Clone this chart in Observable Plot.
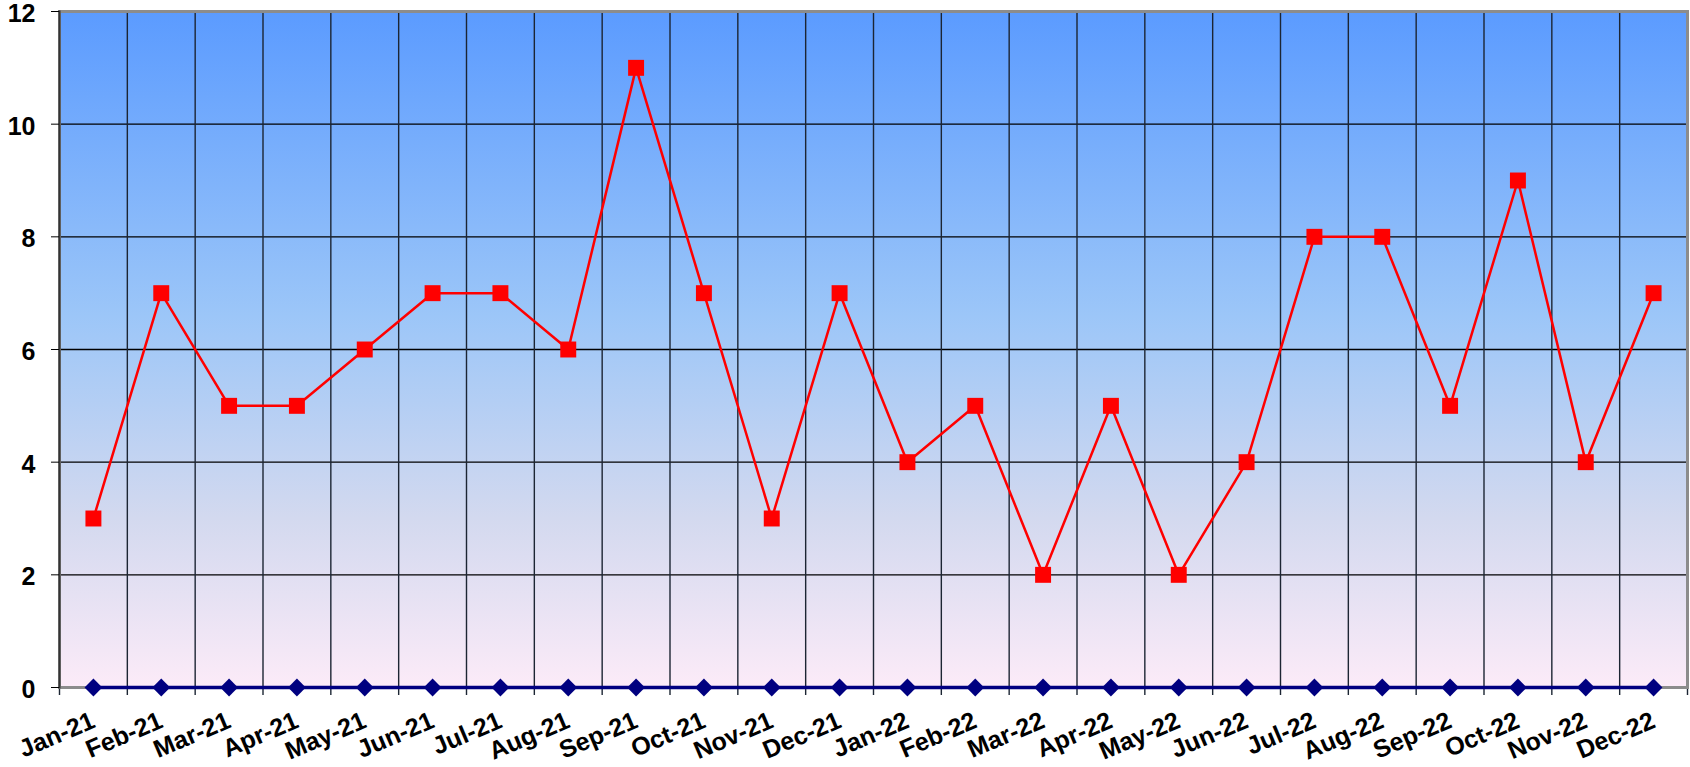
<!DOCTYPE html>
<html><head><meta charset="utf-8">
<script src="https://cdn.jsdelivr.net/npm/d3@7"></script>
<script src="https://cdn.jsdelivr.net/npm/@observablehq/plot@0.6"></script>
<style>body{margin:0;background:#fff;overflow:hidden;} svg{display:block}</style>
</head><body><div id="chart"></div>
<script>
const months = ["Jan-21","Feb-21","Mar-21","Apr-21","May-21","Jun-21","Jul-21","Aug-21","Sep-21","Oct-21","Nov-21","Dec-21",
  "Jan-22","Feb-22","Mar-22","Apr-22","May-22","Jun-22","Jul-22","Aug-22","Sep-22","Oct-22","Nov-22","Dec-22"];
const seriesRed = [3,7,5,5,6,7,7,6,11,7,3,7,4,5,2,5,2,4,8,8,5,9,4,7];
const seriesBlue = [0,0,0,0,0,0,0,0,0,0,0,0,0,0,0,0,0,0,0,0,0,0,0,0];
const yTicks = [0,2,4,6,8,10,12];

const W = 1690, H = 767, mL = 59, mR = 3, mT = 11, mB = 80;
const bw = (W - mL - mR) / months.length;
const red = months.map((m, i) => ({m, v: seriesRed[i]}));
const blue = months.map((m, i) => ({m, v: seriesBlue[i]}));

const svg = Plot.plot({
  width: W, height: H,
  marginLeft: mL, marginRight: mR, marginTop: mT, marginBottom: mB,
  style: {fontFamily: "'Liberation Sans', Arial, sans-serif", fontWeight: "bold", fontSize: "25px", background: "white", overflow: "visible", color: "#000"},
  x: {type: "band", domain: months, padding: 0, round: false, label: null},
  y: {domain: [0, 12], label: null},
  marks: [
    Plot.frame({fill: "url(#bgGrad)", stroke: null}),
    Plot.ruleY(yTicks.filter(t => t > 0 && t < 12), {y: d => d, stroke: "#000", strokeWidth: 1.3}),
    Plot.ruleX(months, {x: d => d, dx: -bw / 2, stroke: "#1c2533", strokeWidth: 1.4, insetBottom: -8}),
    Plot.ruleX(months.slice(-1), {x: d => d, dx: bw / 2, stroke: "#1c2533", strokeWidth: 1.4, insetBottom: -8}),
    Plot.frame({stroke: "#8c8c8c", strokeWidth: 3}),
    Plot.frame({anchor: "left", stroke: "#333", strokeWidth: 2}),
    Plot.axisY({ticks: yTicks, tickSize: 8, tickPadding: 16, fontSize: 25, tickFormat: d => d, label: null}),
    Plot.axisX({tickSize: 0, tickRotate: -23, tickPadding: 32, fontSize: 25, label: null}),
    Plot.line(blue, {x: "m", y: "v", stroke: "#000080", strokeWidth: 3.5}),
    Plot.dot(blue, {x: "m", y: "v", symbol: "diamond2", r: 8, fill: "#000080", stroke: null}),
    Plot.line(red, {x: "m", y: "v", stroke: "#ff0000", strokeWidth: 2.5}),
    Plot.dot(red, {x: "m", y: "v", symbol: "square", r: 9, fill: "#ff0000", stroke: null})
  ]
});

const defs = d3.select(svg).insert("defs", ":first-child");
const g = defs.append("linearGradient").attr("id", "bgGrad")
  .attr("x1", 0).attr("y1", 0).attr("x2", 0).attr("y2", 1);
[[0, "#5b9bff"], [0.45, "#9cc6f8"], [0.75, "#d3d9ef"], [1, "#fcebf8"]].forEach(([o, c]) =>
  g.append("stop").attr("offset", o).attr("stop-color", c));

d3.select(svg).selectAll("text")
  .style("font-size", "25px")
  .style("font-weight", "bold")
  .style("font-family", "'Liberation Sans', Arial, sans-serif");
d3.select(svg).selectAll("g[aria-label='y-axis tick label'] text").attr("dy", "0.1em");

document.getElementById("chart").appendChild(svg);
</script>
</body></html>
